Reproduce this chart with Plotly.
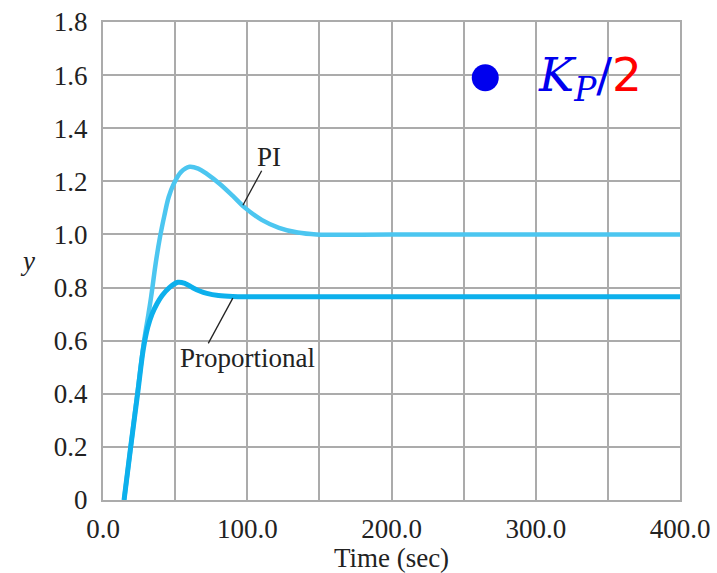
import plotly.graph_objects as go

# Data
t_prop = [14.6, 19.2, 24, 28, 31, 34, 37.5, 41, 46, 52, 57, 62, 67, 72, 80, 90, 100, 120, 150, 200, 300, 400]
y_prop = [0.0, 0.2, 0.4, 0.57, 0.65, 0.70, 0.74, 0.77, 0.80, 0.82, 0.815, 0.80, 0.787, 0.778, 0.77, 0.766, 0.765, 0.765, 0.765, 0.765, 0.765, 0.765]

t_pi = [14.6, 19.2, 23.8, 28.5, 31.5, 33.5, 36.5, 39.5, 42.5, 45.5, 49, 54, 60, 66, 72, 81, 90, 98.5, 110, 122, 135, 148, 200, 300, 400]
y_pi = [0.0, 0.2, 0.4, 0.6, 0.7, 0.77, 0.89, 0.99, 1.07, 1.14, 1.19, 1.235, 1.255, 1.248, 1.228, 1.19, 1.145, 1.10, 1.055, 1.025, 1.007, 1.0, 1.0, 1.0, 1.0]

x_ticks = [0, 100, 200, 300, 400]
x_ticktext = ["0.0", "100.0", "200.0", "300.0", "400.0"]
y_ticks = [0, 0.2, 0.4, 0.6, 0.8, 1.0, 1.2, 1.4, 1.6, 1.8]
y_ticktext = ["0", "0.2", "0.4", "0.6", "0.8", "1.0", "1.2", "1.4", "1.6", "1.8"]

marker_pt = (265, 1.59)

SERIF = "Liberation Serif"
GRID = "#ababab"
TXT = "#222222"

fig = go.Figure()
fig.add_trace(go.Scatter(x=t_pi, y=y_pi, mode="lines",
                         line=dict(color="#4cc6f0", width=4.5, shape="spline", smoothing=1.0),
                         showlegend=False, hoverinfo="skip"))
fig.add_trace(go.Scatter(x=t_prop, y=y_prop, mode="lines",
                         line=dict(color="#0db0ec", width=5, shape="spline", smoothing=1.0),
                         showlegend=False, hoverinfo="skip"))
fig.add_trace(go.Scatter(x=[marker_pt[0]], y=[marker_pt[1]], mode="markers",
                         marker=dict(color="#0000ee", size=27),
                         showlegend=False, hoverinfo="skip"))

# Leader lines
fig.add_shape(type="line", x0=110, y0=1.24, x1=97, y1=1.11, line=dict(color=TXT, width=1.3))
fig.add_shape(type="line", x0=90, y0=0.76, x1=73, y1=0.59, line=dict(color=TXT, width=1.3))

fig.add_annotation(x=115, y=1.29, text="PI", showarrow=False,
                   font=dict(family=SERIF, size=27, color=TXT))
fig.add_annotation(x=100, y=0.535, text="Proportional", showarrow=False,
                   font=dict(family=SERIF, size=27, color=TXT))
fig.add_annotation(x=-0.13, xanchor="center", y=0.9, text="<i>y</i>", showarrow=False,
                   xref="paper", yref="y",
                   font=dict(family=SERIF, size=27, color=TXT))
fig.add_annotation(x=300, y=1.59, xanchor="left", yanchor="middle",
                   text="<i>K</i><sub><i>P</i></sub>/<span style='color:#ff0000;font-family:DejaVu Sans'>2</span>",
                   showarrow=False,
                   font=dict(family="DejaVu Serif", size=47, color="#0000ee"))

fig.update_xaxes(range=[0, 400], tickvals=x_ticks, ticktext=x_ticktext,
                 showgrid=True, gridcolor=GRID, gridwidth=2,
                 minor=dict(dtick=50, showgrid=True, gridcolor=GRID, gridwidth=2, tick0=0),
                 showline=True, linecolor=GRID, linewidth=2, mirror=True,
                 zeroline=False, ticks="", ticklabelstandoff=4, automargin=False,
                 tickfont=dict(family=SERIF, size=27, color=TXT),
                 title=dict(text="Time (sec)", font=dict(family=SERIF, size=27, color=TXT), standoff=6))
fig.update_yaxes(range=[0, 1.8], tickvals=y_ticks, ticktext=y_ticktext,
                 showgrid=True, gridcolor=GRID, gridwidth=2,
                 showline=True, linecolor=GRID, linewidth=2, mirror=True,
                 zeroline=False, ticks="", ticklabelstandoff=8, automargin=False,
                 tickfont=dict(family=SERIF, size=27, color=TXT))

fig.update_layout(width=717, height=573, margin=dict(l=103, r=37, t=22, b=73),
                  plot_bgcolor="white", paper_bgcolor="white")

fig.write_html("out.html")
